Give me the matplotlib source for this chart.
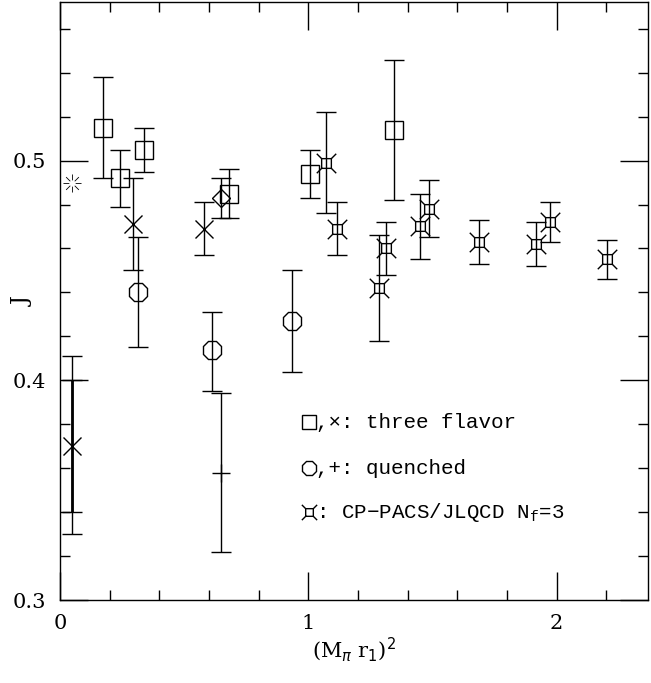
import numpy as np
import matplotlib.pyplot as plt
from matplotlib.path import Path
from matplotlib.ticker import MultipleLocator

# three flavor, squares
sq_x = [0.173, 0.241, 0.339, 0.681, 1.006, 1.344]
sq_y = [0.515, 0.492, 0.505, 0.485, 0.494, 0.514]
sq_lo = [0.492, 0.479, 0.495, 0.474, 0.483, 0.482]
sq_hi = [0.538, 0.505, 0.515, 0.496, 0.505, 0.546]

# three flavor, crosses
cr_x = [0.048, 0.295, 0.581]
cr_y = [0.370, 0.471, 0.469]
cr_lo = [0.330, 0.450, 0.457]
cr_hi = [0.411, 0.492, 0.481]
cr_thick_lo = 0.340
cr_thick_hi = 0.400

# quenched, octagons
oc_x = [0.313, 0.612, 0.935]
oc_y = [0.440, 0.414, 0.427]
oc_lo = [0.415, 0.395, 0.404]
oc_hi = [0.465, 0.431, 0.450]

# quenched, plus
pl_x = [0.648]
pl_y = [0.358]
pl_lo = [0.322]
pl_hi = [0.394]

# diamond
dm_x = [0.648]
dm_y = [0.483]
dm_lo = [0.474]
dm_hi = [0.492]

# CP-PACS/JLQCD Nf=3
cp_x = [1.070, 1.114, 1.284, 1.315, 1.449, 1.485, 1.686, 1.919, 1.972, 2.205]
cp_y = [0.499, 0.469, 0.442, 0.460, 0.470, 0.478, 0.463, 0.462, 0.472, 0.455]
cp_lo = [0.476, 0.457, 0.418, 0.448, 0.455, 0.465, 0.453, 0.452, 0.463, 0.446]
cp_hi = [0.522, 0.481, 0.466, 0.472, 0.485, 0.491, 0.473, 0.472, 0.481, 0.464]

# starburst point at the chiral limit
sb_x = [0.048]
sb_y = [0.490]

# custom markers
v, c = [], []
for p in [(-0.5, -0.5), (0.5, -0.5), (0.5, 0.5), (-0.5, 0.5), (-0.5, -0.5)]:
    v.append(p); c.append(Path.LINETO)
c[0] = Path.MOVETO
for sx, sy in [(1, 1), (1, -1), (-1, 1), (-1, -1)]:
    v += [(0.5 * sx, 0.5 * sy), (sx, sy)]
    c += [Path.MOVETO, Path.LINETO]
burst = Path(v, c)

v, c = [], []
for a in np.arange(8) * np.pi / 4:
    v += [(0.35 * np.cos(a), 0.35 * np.sin(a)), (np.cos(a), np.sin(a))]
    c += [Path.MOVETO, Path.LINETO]
star = Path(v, c)

fig = plt.figure(figsize=(6.51, 6.83), dpi=100)
ax = fig.add_axes([0.092, 0.1215, 0.904, 0.875])

def err(x, y, lo, hi, lw=1.0):
    y = np.array(y)
    ax.errorbar(x, y, yerr=[y - np.array(lo), np.array(hi) - y], fmt='none',
                ecolor='k', elinewidth=lw, capsize=7.5, capthick=1.0)

err(sq_x, sq_y, sq_lo, sq_hi)
err(cr_x, cr_y, cr_lo, cr_hi)
err(cr_x[:1], cr_y[:1], [cr_thick_lo], [cr_thick_hi], lw=2.0)
err(oc_x, oc_y, oc_lo, oc_hi)
err(pl_x, pl_y, pl_lo, pl_hi)
err(dm_x, dm_y, dm_lo, dm_hi)
err(cp_x, cp_y, cp_lo, cp_hi)

mk = dict(linestyle='none', color='k', markerfacecolor='none', markeredgewidth=1.0)
ax.plot(sq_x, sq_y, marker='s', markersize=13, **mk)
ax.plot(cr_x, cr_y, marker='x', markersize=13, **mk)
ax.plot(oc_x, oc_y, marker='8', markersize=14, **mk)
ax.plot(pl_x, pl_y, marker='+', markersize=13, **mk)
ax.plot(dm_x, dm_y, marker='D', markersize=9, **mk)
ax.plot(cp_x, cp_y, marker=burst, markersize=14, **mk)
ax.plot(sb_x, sb_y, marker=star, markersize=13, linestyle='none', color='k',
        markeredgewidth=0.6)

# legend as text
tf = dict(fontfamily='Liberation Mono', fontsize=15, va='center')
ax.plot([1.005], [0.381], marker='s', markersize=10, **mk)
ax.text(1.03, 0.381, ',\u00d7: three flavor', **tf)
ax.plot([1.005], [0.360], marker='8', markersize=11, **mk)
ax.text(1.03, 0.360, ',+: quenched', **tf)
ax.plot([1.005], [0.340], marker=burst, markersize=11, **mk)
ax.text(1.03, 0.340, ': CP\u2212PACS/JLQCD N$_\\mathregular{f}$=3', **tf)

ax.set_xlim(0, 2.37)
ax.set_ylim(0.3, 0.572)
ax.xaxis.set_major_locator(MultipleLocator(1))
ax.xaxis.set_minor_locator(MultipleLocator(0.2))
ax.yaxis.set_major_locator(MultipleLocator(0.1))
ax.yaxis.set_minor_locator(MultipleLocator(0.02))
ax.tick_params(which='both', direction='in', top=True, right=True, width=1.0)
ax.tick_params(which='major', length=20, pad=10)
ax.tick_params(which='minor', length=7)
ax.set_xticks([0, 1, 2])
ax.set_xticklabels(['0', '1', '2'], fontfamily='DejaVu Serif', fontsize=15)
ax.set_yticks([0.3, 0.4, 0.5])
ax.set_yticklabels(['0.3', '0.4', '0.5'], fontfamily='DejaVu Serif', fontsize=15)
for s in ax.spines.values():
    s.set_linewidth(1.0)

ax.set_xlabel('(M$_\\pi$ r$_1$)$^2$', fontfamily='DejaVu Serif', fontsize=15, labelpad=2)
ax.set_ylabel('J', fontfamily='DejaVu Serif', fontsize=16, rotation=90)
ax.yaxis.set_label_coords(-0.045, 0.5)

fig.savefig('out.png', dpi=100)
